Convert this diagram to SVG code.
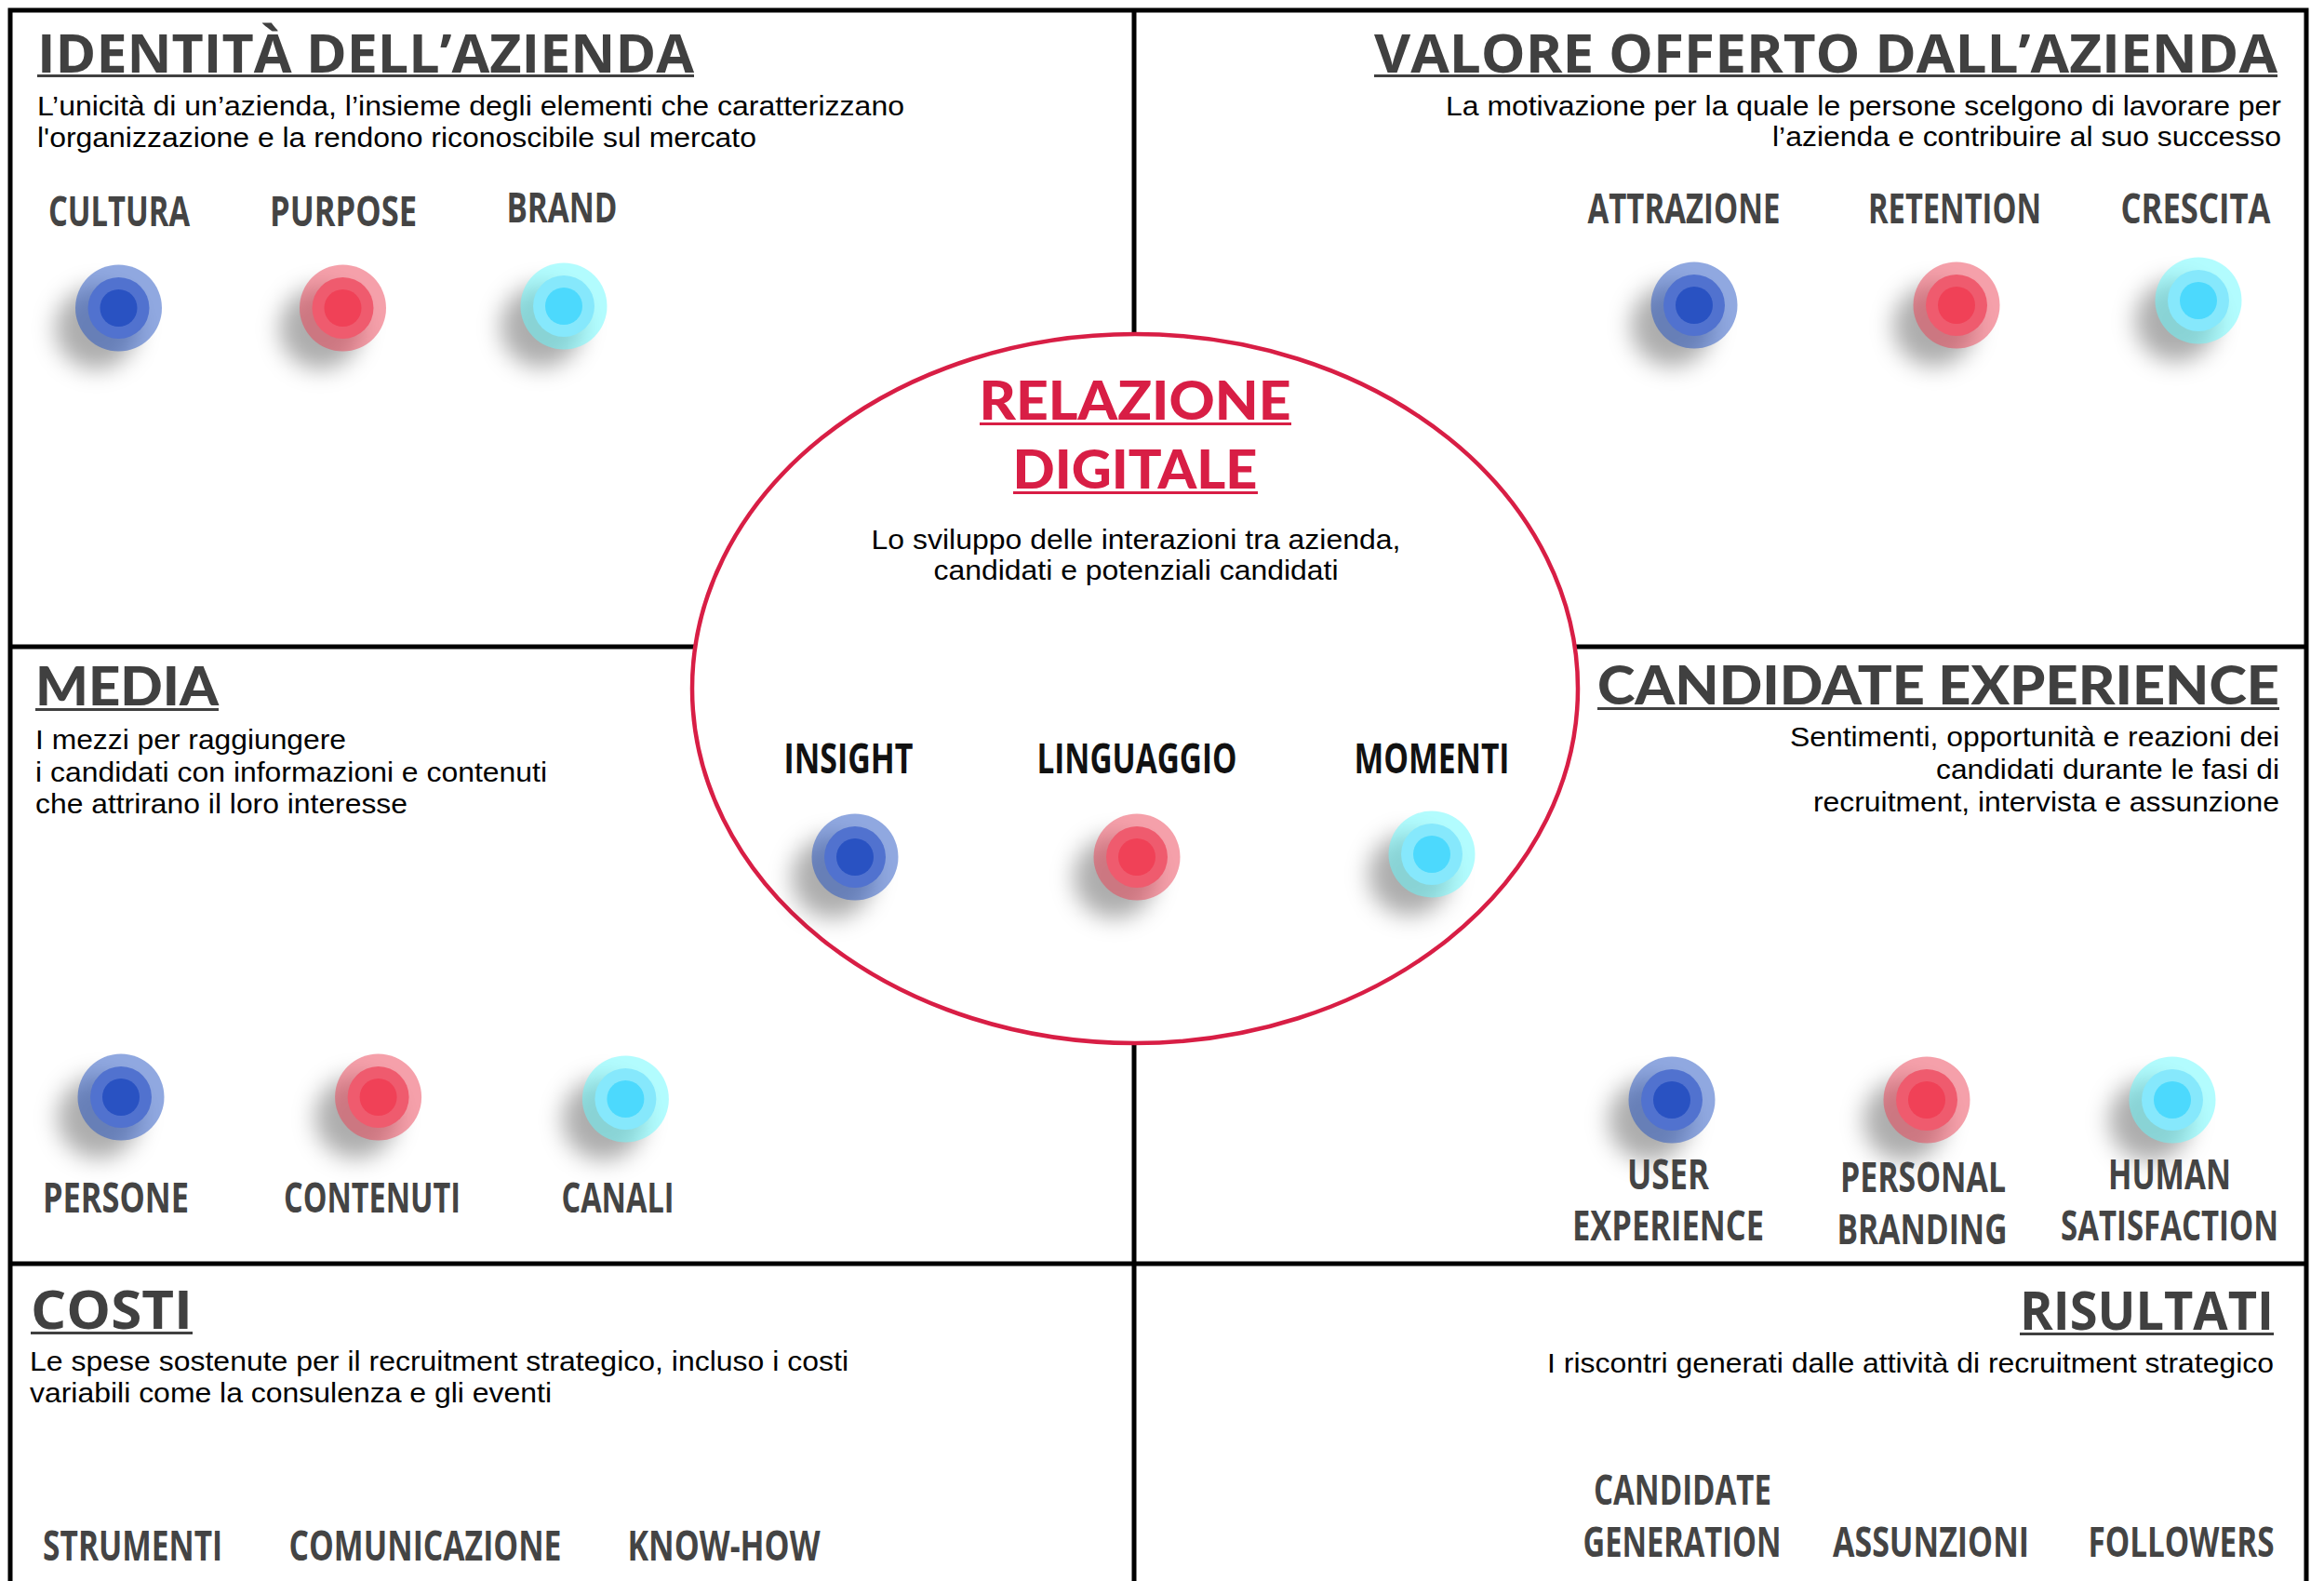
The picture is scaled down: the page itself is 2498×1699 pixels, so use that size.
<svg xmlns="http://www.w3.org/2000/svg" xmlns:xlink="http://www.w3.org/1999/xlink" width="2498" height="1699" viewBox="0 0 2498 1699">
<style>
.grid{stroke:#000;stroke-width:5;fill:none}
.ttl{font-family:"Open Sans","Liberation Sans",sans-serif;font-weight:700;font-size:57px;fill:#404040}
.ttl2{font-family:"Lato","Liberation Sans",sans-serif;font-weight:900;font-size:57px;fill:#404040}
.red{fill:#D81E45}
.ul{fill:#404040}
.ulr{fill:#D81E45}
.desc{font-family:"Liberation Sans",Arial,sans-serif;font-size:29px;fill:#000}
.lbl{font-family:"Open Sans","Liberation Sans",sans-serif;font-weight:700;font-size:44px;fill:#444;text-anchor:middle}
.lblk{fill:#111}
.r{text-anchor:end}
.m{text-anchor:middle}
.shadow{fill:#000;fill-opacity:0.32}
</style>
<defs>
<filter id="blur" x="-100%" y="-100%" width="300%" height="300%">
<feGaussianBlur stdDeviation="12"/>
</filter>
<g id="dot-blue"><circle class="shadow" cx="-24" cy="22" r="44" filter="url(#blur)"/><circle r="46.5" fill="#2151C1" fill-opacity="0.5"/><circle r="33" fill="#5172CF"/><circle r="20" fill="#2952C2"/></g>
<g id="dot-red"><circle class="shadow" cx="-24" cy="22" r="44" filter="url(#blur)"/><circle r="46.5" fill="#EB4155" fill-opacity="0.5"/><circle r="33" fill="#EF5B6E"/><circle r="20" fill="#F04157"/></g>
<g id="dot-cyan"><circle class="shadow" cx="-24" cy="22" r="44" filter="url(#blur)"/><circle r="46.5" fill="#65F9FD" fill-opacity="0.5"/><circle r="33" fill="#86E8FC"/><circle r="20" fill="#4CD9FD"/></g>
</defs>
<rect width="2498" height="1699" fill="#fff"/>

<g id="connectors">
<path class="grid" d="M11 1699 V11 H2479 V1699"/>
<line class="grid" x1="1219" y1="11" x2="1219" y2="1699"/>
<line class="grid" x1="11" y1="695" x2="2479" y2="695"/>
<line class="grid" x1="11" y1="1358" x2="2479" y2="1358"/>
</g>

<g id="identita">
<text class="ttl" x="40" y="78" textLength="706" lengthAdjust="spacingAndGlyphs">IDENTITÀ DELL’AZIENDA</text>
<rect class="ul" x="40" y="80" width="706" height="3"/>
<text class="desc" x="40" y="124" textLength="932" lengthAdjust="spacingAndGlyphs">L’unicità di un’azienda, l’insieme degli elementi che caratterizzano</text>
<text class="desc" x="40" y="158" textLength="773" lengthAdjust="spacingAndGlyphs">l'organizzazione e la rendono riconoscibile sul mercato</text>
</g>
<g id="cultura"><text class="lbl" x="128" y="243" textLength="152" lengthAdjust="spacingAndGlyphs">CULTURA</text><use href="#dot-blue" x="127.5" y="331"/></g>
<g id="purpose"><text class="lbl" x="369" y="243" textLength="158" lengthAdjust="spacingAndGlyphs">PURPOSE</text><use href="#dot-red" x="368.5" y="331"/></g>
<g id="brand"><text class="lbl" x="604" y="239" textLength="119" lengthAdjust="spacingAndGlyphs">BRAND</text><use href="#dot-cyan" x="606" y="329"/></g>

<g id="valore">
<text class="ttl r" x="2448" y="78" textLength="971" lengthAdjust="spacingAndGlyphs">VALORE OFFERTO DALL’AZIENDA</text>
<rect class="ul" x="1477" y="80" width="971" height="3"/>
<text class="desc r" x="2452" y="124" textLength="898" lengthAdjust="spacingAndGlyphs">La motivazione per la quale le persone scelgono di lavorare per</text>
<text class="desc r" x="2452" y="157" textLength="547" lengthAdjust="spacingAndGlyphs">l’azienda e contribuire al suo successo</text>
</g>
<g id="attrazione"><text class="lbl" x="1810" y="240" textLength="207" lengthAdjust="spacingAndGlyphs">ATTRAZIONE</text><use href="#dot-blue" x="1821" y="328"/></g>
<g id="retention"><text class="lbl" x="2101" y="240" textLength="186" lengthAdjust="spacingAndGlyphs">RETENTION</text><use href="#dot-red" x="2103" y="328"/></g>
<g id="crescita"><text class="lbl" x="2360" y="240" textLength="161" lengthAdjust="spacingAndGlyphs">CRESCITA</text><use href="#dot-cyan" x="2363" y="323"/></g>

<g id="media">
<text class="ttl2" x="38" y="758" textLength="197" lengthAdjust="spacingAndGlyphs">MEDIA</text>
<rect class="ul" x="38" y="761" width="197" height="3"/>
<text class="desc" x="38" y="805" textLength="334" lengthAdjust="spacingAndGlyphs">I mezzi per raggiungere</text>
<text class="desc" x="38" y="840" textLength="550" lengthAdjust="spacingAndGlyphs">i candidati con informazioni e contenuti</text>
<text class="desc" x="38" y="874" textLength="400" lengthAdjust="spacingAndGlyphs">che attrirano il loro interesse</text>
</g>
<g id="persone"><use href="#dot-blue" x="130" y="1179"/><text class="lbl" x="124.5" y="1303" textLength="157" lengthAdjust="spacingAndGlyphs">PERSONE</text></g>
<g id="contenuti"><use href="#dot-red" x="406.6" y="1179"/><text class="lbl" x="400" y="1303" textLength="190" lengthAdjust="spacingAndGlyphs">CONTENUTI</text></g>
<g id="canali"><use href="#dot-cyan" x="672.4" y="1181"/><text class="lbl" x="664" y="1303" textLength="121" lengthAdjust="spacingAndGlyphs">CANALI</text></g>

<g id="candidate-experience">
<text class="ttl2 r" x="2450" y="757" textLength="733" lengthAdjust="spacingAndGlyphs">CANDIDATE EXPERIENCE</text>
<rect class="ul" x="1717" y="760" width="733" height="3"/>
<text class="desc r" x="2450" y="802" textLength="526" lengthAdjust="spacingAndGlyphs">Sentimenti, opportunità e reazioni dei</text>
<text class="desc r" x="2450" y="837" textLength="369" lengthAdjust="spacingAndGlyphs">candidati durante le fasi di</text>
<text class="desc r" x="2450" y="872" textLength="501" lengthAdjust="spacingAndGlyphs">recruitment, intervista e assunzione</text>
</g>
<g id="user-experience"><use href="#dot-blue" x="1797" y="1182"/><text class="lbl" x="1793" y="1278" textLength="88" lengthAdjust="spacingAndGlyphs">USER</text><text class="lbl" x="1793" y="1333" textLength="206" lengthAdjust="spacingAndGlyphs">EXPERIENCE</text></g>
<g id="personal-branding"><use href="#dot-red" x="2071" y="1182"/><text class="lbl" x="2067" y="1281" textLength="178" lengthAdjust="spacingAndGlyphs">PERSONAL</text><text class="lbl" x="2066" y="1337" textLength="183" lengthAdjust="spacingAndGlyphs">BRANDING</text></g>
<g id="human-satisfaction"><use href="#dot-cyan" x="2335" y="1182"/><text class="lbl" x="2332" y="1278" textLength="132" lengthAdjust="spacingAndGlyphs">HUMAN</text><text class="lbl" x="2332" y="1333" textLength="234" lengthAdjust="spacingAndGlyphs">SATISFACTION</text></g>

<g id="costi">
<text class="ttl" x="33" y="1428" textLength="174" lengthAdjust="spacingAndGlyphs">COSTI</text>
<rect class="ul" x="33" y="1431" width="174" height="3"/>
<text class="desc" x="32" y="1473" textLength="880" lengthAdjust="spacingAndGlyphs">Le spese sostenute per il recruitment strategico, incluso i costi</text>
<text class="desc" x="32" y="1507" textLength="561" lengthAdjust="spacingAndGlyphs">variabili come la consulenza e gli eventi</text>
</g>
<g id="strumenti"><text class="lbl" x="142.6" y="1677" textLength="193" lengthAdjust="spacingAndGlyphs">STRUMENTI</text></g>
<g id="comunicazione"><text class="lbl" x="457" y="1677" textLength="293" lengthAdjust="spacingAndGlyphs">COMUNICAZIONE</text></g>
<g id="know-how"><text class="lbl" x="778" y="1677" textLength="207" lengthAdjust="spacingAndGlyphs">KNOW-HOW</text></g>

<g id="risultati">
<text class="ttl r" x="2444" y="1429" textLength="273" lengthAdjust="spacingAndGlyphs">RISULTATI</text>
<rect class="ul" x="2171" y="1432" width="273" height="3"/>
<text class="desc r" x="2444" y="1475" textLength="781" lengthAdjust="spacingAndGlyphs">I riscontri generati dalle attività di recruitment strategico</text>
</g>
<g id="candidate-generation"><text class="lbl" x="1808.5" y="1617" textLength="191" lengthAdjust="spacingAndGlyphs">CANDIDATE</text><text class="lbl" x="1808" y="1673" textLength="213" lengthAdjust="spacingAndGlyphs">GENERATION</text></g>
<g id="assunzioni"><text class="lbl" x="2075.5" y="1673" textLength="211" lengthAdjust="spacingAndGlyphs">ASSUNZIONI</text></g>
<g id="followers"><text class="lbl" x="2344.5" y="1673" textLength="200" lengthAdjust="spacingAndGlyphs">FOLLOWERS</text></g>

<g id="relazione-digitale">
<ellipse cx="1220" cy="740" rx="476" ry="381" fill="#fff" stroke="#D81E45" stroke-width="4.5"/>
<text class="ttl2 red m" x="1220" y="451" textLength="335" lengthAdjust="spacingAndGlyphs">RELAZIONE</text>
<rect class="ulr" x="1053" y="454" width="335" height="3"/>
<text class="ttl2 red m" x="1220" y="525" textLength="263" lengthAdjust="spacingAndGlyphs">DIGITALE</text>
<rect class="ulr" x="1089" y="528" width="263" height="3"/>
<text class="desc m" x="1221" y="590" textLength="569" lengthAdjust="spacingAndGlyphs">Lo sviluppo delle interazioni tra azienda,</text>
<text class="desc m" x="1221" y="623" textLength="435" lengthAdjust="spacingAndGlyphs">candidati e potenziali candidati</text>
</g>
<g id="insight"><text class="lbl lblk" x="912" y="831" textLength="139" lengthAdjust="spacingAndGlyphs">INSIGHT</text><use href="#dot-blue" x="919" y="921"/></g>
<g id="linguaggio"><text class="lbl lblk" x="1222" y="831" textLength="215" lengthAdjust="spacingAndGlyphs">LINGUAGGIO</text><use href="#dot-red" x="1222" y="921"/></g>
<g id="momenti"><text class="lbl lblk" x="1539" y="831" textLength="167" lengthAdjust="spacingAndGlyphs">MOMENTI</text><use href="#dot-cyan" x="1539" y="918"/></g>
</svg>
